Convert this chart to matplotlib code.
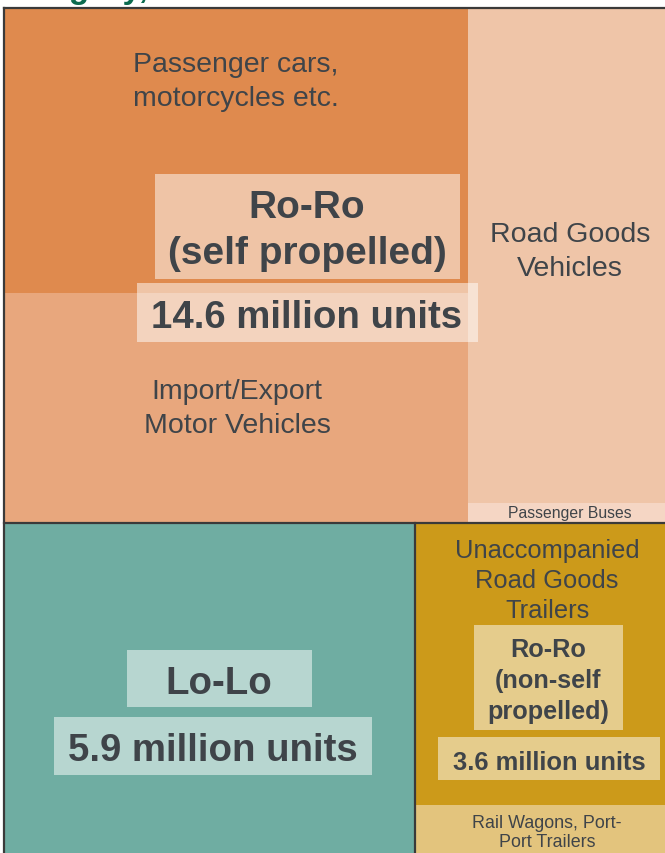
import matplotlib.pyplot as plt
from matplotlib.patches import Rectangle

plt.rcParams['font.family'] = ['Liberation Sans', 'DejaVu Sans']

# Werte in Millionen Einheiten
gruppen = ["Ro-Ro\n(self propelled)", "Lo-Lo", "Ro-Ro\n(non-self\npropelled)"]
gruppen_werte = [14.6, 5.9, 3.6]
gruppen_label = ["14.6 million units", "5.9 million units", "3.6 million units"]

roro_kat = ["Passenger cars,\nmotorcycles etc.", "Import/Export\nMotor Vehicles",
            "Road Goods\nVehicles", "Passenger Buses"]
roro_werte = [5.67, 4.57, 4.19, 0.17]

nonself_kat = ["Unaccompanied\nRoad Goods\nTrailers", "Rail Wagons, Port-\nPort Trailers"]
nonself_werte = [3.03, 0.57]

farben_roro = ["#DF8A4E", "#E8A77D", "#EFC5A8", "#F5D6C4"]
farbe_lolo = "#6FADA2"
farben_nonself = ["#CC9A1A", "#E3C47D"]
txt = "#3F4449"
rand = "#3A3A3A"

fig = plt.figure(figsize=[6.65, 8.54], dpi=100)
ax = fig.add_axes([0, 0, 1, 1])
ax.set_xlim(0, 665)
ax.set_ylim(854, 0)
ax.axis("off")

# Treemap-Flaeche (Pixelkoordinaten)
x0, y0, W, H = 5, 9, 660, 850
gesamt = sum(gruppen_werte)

# obere Reihe: Ro-Ro selbstfahrend
top_h = H * gruppen_werte[0] / gesamt
links_w = W * (roro_werte[0] + roro_werte[1]) / gruppen_werte[0]
h0 = top_h * roro_werte[0] / (roro_werte[0] + roro_werte[1])
h2 = top_h * roro_werte[2] / (roro_werte[2] + roro_werte[3])
rechtecke = [
	(x0, y0, links_w, h0, farben_roro[0]),
	(x0, y0 + h0, links_w, top_h - h0, farben_roro[1]),
	(x0 + links_w, y0, W - links_w, h2, farben_roro[2]),
	(x0 + links_w, y0 + h2, W - links_w, top_h - h2, farben_roro[3]),
]

# untere Reihe: Lo-Lo und Ro-Ro nicht selbstfahrend
bot_y = y0 + top_h
bot_h = H - top_h
lolo_w = W * gruppen_werte[1] / (gruppen_werte[1] + gruppen_werte[2])
h_tr = bot_h * nonself_werte[0] / sum(nonself_werte)
rechtecke += [
	(x0, bot_y, lolo_w, bot_h, farbe_lolo),
	(x0 + lolo_w, bot_y, W - lolo_w, h_tr, farben_nonself[0]),
	(x0 + lolo_w, bot_y + h_tr, W - lolo_w, bot_h - h_tr, farben_nonself[1]),
]

for (x, y, w, h, c) in rechtecke:
	ax.add_patch(Rectangle((x, y), w, h, facecolor=c, edgecolor="none"))

# Rahmenlinien
ax.plot([x0 - 1, x0 - 1], [y0, 854], color=rand, lw=1.6)
ax.plot([x0 - 1, 665], [y0, y0], color=rand, lw=1.6)
ax.plot([x0 - 1, 665], [bot_y, bot_y], color=rand, lw=1.6)
ax.plot([x0 + lolo_w, x0 + lolo_w], [bot_y, 854], color=rand, lw=1.6)

# halbtransparente Kaesten hinter den Gruppenbeschriftungen
kaesten = [(155, 175, 305, 105), (137, 284, 341, 59),
           (127, 651, 185, 57), (54, 718, 318, 58),
           (474, 626, 149, 105), (438, 738, 222, 43)]
for (x, y, w, h) in kaesten:
	ax.add_patch(Rectangle((x, y), w, h, facecolor="white", alpha=0.5, edgecolor="none"))

# Kategorien
ax.text(236, 82, roro_kat[0], ha="center", va="center", fontsize=20.5, color=txt, linespacing=1.4)
ax.text(237, 409, roro_kat[1], ha="center", va="center", fontsize=20.5, color=txt, linespacing=1.4)
ax.text(570, 252, roro_kat[2], ha="center", va="center", fontsize=20.5, color=txt, linespacing=1.4)
ax.text(570, 514, roro_kat[3], ha="center", va="center", fontsize=11.3, color=txt)
ax.text(547, 581, nonself_kat[0], ha="center", va="center", fontsize=18.4, color=txt, linespacing=1.3)
ax.text(547, 833, nonself_kat[1], ha="center", va="center", fontsize=12.9, color=txt, linespacing=1.1)

# Gruppen
ax.text(307, 231, gruppen[0], ha="center", va="center", fontsize=28, color=txt, fontweight="bold", linespacing=1.38)
ax.text(307, 318, gruppen_label[0], ha="center", va="center", fontsize=27.6, color=txt, fontweight="bold")
ax.text(219, 684, gruppen[1], ha="center", va="center", fontsize=27.6, color=txt, fontweight="bold")
ax.text(213, 751, gruppen_label[1], ha="center", va="center", fontsize=27.6, color=txt, fontweight="bold")
ax.text(548, 681, gruppen[2], ha="center", va="center", fontsize=18.2, color=txt, fontweight="bold", linespacing=1.38)
ax.text(549, 763, gruppen_label[2], ha="center", va="center", fontsize=18.4, color=txt, fontweight="bold")

# abgeschnittener Titel oben (nur Unterlaengen sichtbar)
ax.text(2, -2, "category, in units 2019", ha="left", va="baseline", fontsize=24,
        color="#0B6B4F", fontweight="bold")

plt.savefig("out.png", dpi=100)
